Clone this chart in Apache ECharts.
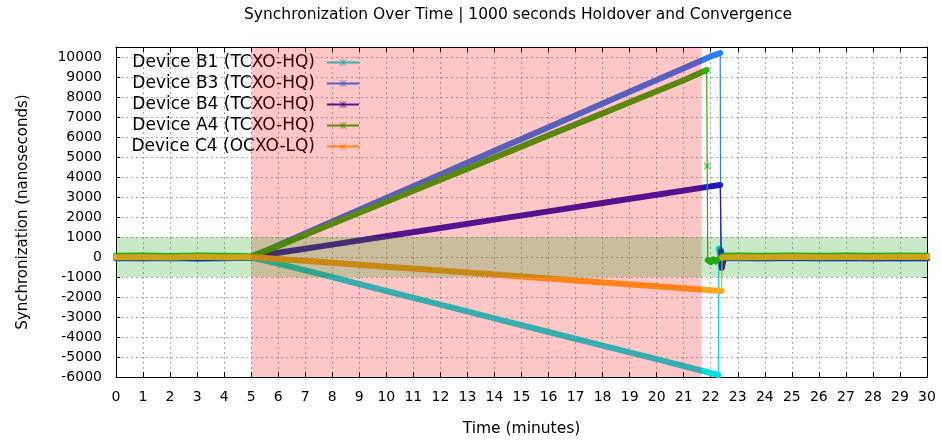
<!DOCTYPE html>
<html>
<head>
<meta charset="utf-8">
<script src="https://cdn.jsdelivr.net/npm/echarts@6/dist/echarts.min.js"></script>
<style>
  html, body { margin: 0; padding: 0; background: #ffffff; }
  #chart { width: 941px; height: 443px; }
</style>
</head>
<body>
<div id="chart"></div>
<script>
// Time axis in minutes, synchronization offset in nanoseconds.
const titleText = 'Synchronization Over Time | 1000 seconds Holdover and Convergence';
const xName = 'Time (minutes)';
const yName = 'Synchronization (nanoseconds)';

const xMin = 0, xMax = 30, xStep = 1;
const yMin = -6000, yMax = 10500, yStep = 1000;

// Holdover window (5 min + 1000 s) and the ±1000 ns convergence band.
const holdoverWindow = [5, 21.667];
const convergenceBand = [-1000, 1000];

const deviceNames = [
  'Device B1 (TCXO-HQ)',
  'Device B3 (TCXO-HQ)',
  'Device B4 (TCXO-HQ)',
  'Device A4 (TCXO-HQ)',
  'Device C4 (OCXO-LQ)'
];

// [minute, offset ns] samples per device
const deviceB1 = [
  [0, -60], [1, -40], [2, -70], [3, -50], [4, -60], [5, -30],
  [6, -330], [8, -1010], [10, -1700], [12, -2380], [14, -3070], [16, -3750],
  [18, -4430], [20, -5110], [22, -5800], [22.28, -5900],
  [22.3, 420], [22.36, 40], [22.45, -50],
  [23, -50], [24, -60], [25, -40], [26, -60], [27, -50], [28, -40], [29, -60], [30, -50]
];
const deviceB3 = [
  [0, -60], [1, -70], [2, -50], [3, -80], [4, -60], [5, -40],
  [6, 590], [8, 1770], [10, 2950], [12, 4130], [14, 5310], [16, 6490],
  [18, 7670], [20, 8850], [22, 10030], [22.35, 10200],
  [22.37, 350], [22.4, -450], [22.44, -200], [22.5, -60],
  [23, -60], [24, -70], [25, -50], [26, -70], [27, -60], [28, -80], [29, -60], [30, -70]
];
const deviceB4 = [
  [0, -40], [1, -50], [2, -30], [3, -60], [4, -40], [5, -20],
  [6, 210], [8, 620], [10, 1040], [12, 1450], [14, 1870], [16, 2280],
  [18, 2700], [20, 3110], [22, 3530], [22.35, 3600],
  [22.39, 250], [22.41, -550], [22.45, -250], [22.5, -40],
  [23, -40], [24, -50], [25, -30], [26, -50], [27, -40], [28, -60], [29, -40], [30, -50]
];
const deviceA4 = [
  [0, 60], [1, 70], [2, 50], [3, 70], [4, 60], [5, 40],
  [6, 550], [8, 1660], [10, 2760], [12, 3870], [14, 4970], [16, 6080],
  [18, 7180], [20, 8290], [21, 8840], [21.85, 9350],
  [21.87, 4550], [21.89, -150], [22.0, -260], [22.1, -120], [22.2, -230], [22.3, -110], [22.45, 60],
  [23, 70], [24, 60], [25, 70], [26, 60], [27, 70], [28, 60], [29, 70], [30, 60]
];
const deviceC4 = [
  [0, -10], [1, 0], [2, -20], [3, 10], [4, -10], [5, 0],
  [6, -100], [8, -290], [10, -490], [12, -680], [14, -880], [16, -1070],
  [18, -1270], [20, -1460], [22, -1660], [22.4, -1700],
  [22.42, -20],
  [23, 0], [24, -10], [25, 10], [26, -10], [27, 0], [28, -10], [29, 10], [30, 0]
];

const deviceSamples = [deviceB1, deviceB3, deviceB4, deviceA4, deviceC4];
const deviceColors = ['#00dede', '#2a7cf0', '#2418b8', '#2eae12', '#ffa820'];

const FONT = 'DejaVu Sans';
const MAX_STEP = 1500; // ns; larger steps are drawn as thin jumps

// gnuplot-style asterisk point marker
const STAR = 'path://M0 9L20 9L20 11L0 11Z M9 0L11 0L11 20L9 20Z ' +
  'M0 1.4L1.4 0L20 18.6L18.6 20Z M18.6 0L20 1.4L1.4 20L0 18.6Z';

function jumps(points, i, j) {
  return j < 0 || j >= points.length || Math.abs(points[i][1] - points[j][1]) > MAX_STEP;
}

// Dense samples form a thick trace; the jumps at convergence stay thin.
function continuousRuns(points) {
  const out = [];
  for (let i = 0; i < points.length; i++) {
    if (i > 0 && jumps(points, i, i - 1)) {
      out.push([(points[i][0] + points[i - 1][0]) / 2, '-']);
    }
    out.push(points[i]);
  }
  return out;
}

const series = [];
deviceNames.forEach(function (name, i) {
  const color = deviceColors[i];
  const pts = deviceSamples[i];
  series.push({
    name: name,
    type: 'line',
    data: pts,
    color: color,
    symbol: STAR,
    // only stray samples (jumping on both sides) show their marker
    symbolSize: function (value, params) {
      const k = params.dataIndex;
      return (jumps(pts, k, k - 1) && jumps(pts, k, k + 1)) ? 7 : 0;
    },
    showSymbol: true,
    lineStyle: { width: 1.2, color: color },
    itemStyle: { color: color },
    silent: true,
    z: 2
  });
  series.push({
    name: name,
    type: 'line',
    data: continuousRuns(pts),
    color: color,
    symbol: 'none',
    showSymbol: false,
    connectNulls: false,
    lineStyle: { width: 6, color: color, join: 'round', cap: 'round' },
    silent: true,
    z: 2
  });
});

// Translucent shading drawn over the traces
series.push({
  type: 'line',
  data: [],
  silent: true,
  z: 10,
  markArea: {
    silent: true,
    z: 10,
    label: { show: false },
    data: [
      [{ xAxis: holdoverWindow[0], itemStyle: { color: 'rgba(255,0,0,0.22)' } }, { xAxis: holdoverWindow[1] }],
      [{ yAxis: convergenceBand[0], itemStyle: { color: 'rgba(0,150,0,0.21)' } }, { yAxis: convergenceBand[1] }]
    ]
  }
});

const gridLine = { show: true, lineStyle: { color: '#a8a8a8', width: 1, type: [2, 3] } };
const frameLine = { show: true, onZero: false, lineStyle: { color: '#000', width: 1 } };

const option = {
  animation: false,
  backgroundColor: '#ffffff',
  textStyle: { fontFamily: FONT },
  title: {
    text: titleText,
    left: 518,
    top: 7,
    textAlign: 'center',
    padding: 0,
    textStyle: { fontFamily: FONT, fontSize: 15.5, fontWeight: 'normal', color: '#000' }
  },
  legend: {
    data: deviceNames,
    orient: 'vertical',
    align: 'right',
    right: 581,
    top: 54,
    padding: 0,
    itemWidth: 32,
    itemHeight: 9,
    itemGap: 4,
    selectedMode: false,
    z: 3,
    textStyle: { fontFamily: FONT, fontSize: 17, color: '#000', padding: [0, 7, 0, 0] }
  },
  grid: { left: 116, right: 14, top: 47, bottom: 66, outerBoundsMode: 'none' },
  xAxis: [
    {
      type: 'value', min: xMin, max: xMax, interval: xStep, position: 'bottom',
      name: xName, nameLocation: 'middle', nameGap: 44,
      nameTextStyle: { fontFamily: FONT, fontSize: 15.5, color: '#000' },
      axisLine: frameLine,
      axisTick: { show: true, inside: true, length: 5, lineStyle: { color: '#000' } },
      axisLabel: { fontFamily: FONT, fontSize: 14, color: '#000', margin: 13 },
      splitLine: gridLine
    },
    {
      type: 'value', min: xMin, max: xMax, interval: xStep, position: 'top',
      axisLine: frameLine,
      axisTick: { show: true, inside: true, length: 5, lineStyle: { color: '#000' } },
      axisLabel: { show: false },
      splitLine: { show: false }
    }
  ],
  yAxis: [
    {
      type: 'value', min: yMin, max: yMax, interval: yStep, position: 'left',
      name: yName, nameLocation: 'middle', nameGap: 85,
      nameTextStyle: { fontFamily: FONT, fontSize: 15, color: '#000' },
      axisLine: frameLine,
      axisTick: { show: true, inside: true, length: 4, lineStyle: { color: '#000' } },
      axisLabel: {
        fontFamily: FONT, fontSize: 14, color: '#000', margin: 14,
        formatter: function (v) { return v > 10000 ? '' : String(v); }
      },
      splitLine: gridLine
    },
    {
      type: 'value', min: yMin, max: yMax, interval: yStep, position: 'right',
      axisLine: frameLine,
      axisTick: { show: true, inside: true, length: 4, lineStyle: { color: '#000' } },
      axisLabel: { show: false },
      splitLine: { show: false }
    }
  ],
  series: series
};

const chart = echarts.init(document.getElementById('chart'), null, { renderer: 'canvas' });
chart.setOption(option);
</script>
</body>
</html>
